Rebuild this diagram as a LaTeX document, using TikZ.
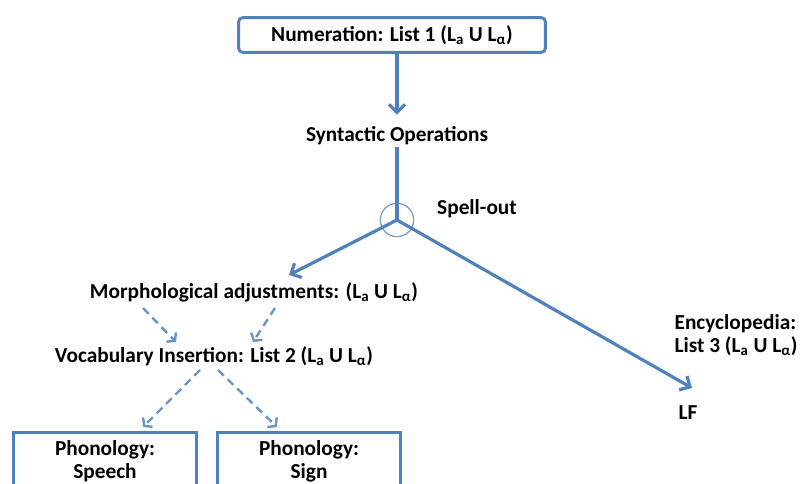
\documentclass[tikz,border=0pt]{standalone}
\usepackage{fontspec}
\setmainfont{Carlito}
\usetikzlibrary{arrows.meta}
\definecolor{lineblue}{RGB}{79,129,189}
\newcommand{\lsets}{(L\textsubscript{a} U L\textsubscript{α})}
\tikzset{
	lbl/.style={font=\bfseries\fontsize{16}{17}\selectfont, inner sep=1pt, align=center},
	topbox/.style={lbl, draw=lineblue, line width=2.2pt, rounded corners=3pt, minimum width=230pt, minimum height=26pt},
	phonbox/.style={lbl, draw=lineblue, line width=2.2pt, minimum width=137pt, anchor=north, inner ysep=6pt},
	flow/.style={draw=lineblue, line width=2.4pt, -{Straight Barb[length=6pt, width=12pt]}},
	dashflow/.style={draw=lineblue!85, line width=1.8pt, dash pattern=on 6pt off 4pt, -{Straight Barb[length=4pt, width=10pt]}}
}
\begin{document}
\begin{tikzpicture}[x=0.75pt, y=-0.75pt]
	\useasboundingbox (0,0) rectangle (800,484);
	\clip (0,0) rectangle (800,484);
	% top of the derivation
	\node[topbox] (num) at (392,35) {Numeration: List 1 \lsets};
	\node[lbl] (synt) at (397,136) {Syntactic Operations};
	\node[draw=lineblue!80, line width=0.9pt, circle, minimum size=25pt, inner sep=0pt] (so) at (397,220) {};
	\node[lbl] (spell) at (477,209) {Spell-out};
	% the two branches
	\node[lbl] (morph) at (254,292) {Morphological adjustments: \lsets};
	\node[lbl] (vocab) at (214,356) {Vocabulary Insertion: List 2 \lsets};
	\node[lbl, align=left] (ency) at (736,335) {Encyclopedia:\\List 3 \lsets};
	\node[lbl] (lf) at (688,413) {LF};
	\node[phonbox] (speech) at (105,431) {Phonology:\\Speech\\ \mbox{}};
	\node[phonbox] (sign) at (309,431) {Phonology:\\Sign\\ \mbox{}};
	\coordinate (morphin) at (289,275);
	\coordinate (lfin) at (692,388);
	\coordinate (m1) at (143,308);
	\coordinate (m2) at (275,308);
	\coordinate (v1) at (176,342);
	\coordinate (v2) at (253,342);
	\coordinate (v3) at (200,370);
	\coordinate (v4) at (218,370);
	\coordinate (p1) at (143,427);
	\coordinate (p2) at (277,427);
	% connectors
	\draw[flow, shorten >=8pt] (synt.north |- num.south) -- (synt.north);
	\draw[draw=lineblue, line width=2.4pt] (synt.south) -- (so.center);
	\draw[flow] (so.center) -- (morphin);
	\draw[flow] (so.center) -- (lfin);
	\draw[dashflow] (m1) -- (v1);
	\draw[dashflow] (m2) -- (v2);
	\draw[dashflow] (v3) -- (p1);
	\draw[dashflow] (v4) -- (p2);
\end{tikzpicture}
\end{document}
